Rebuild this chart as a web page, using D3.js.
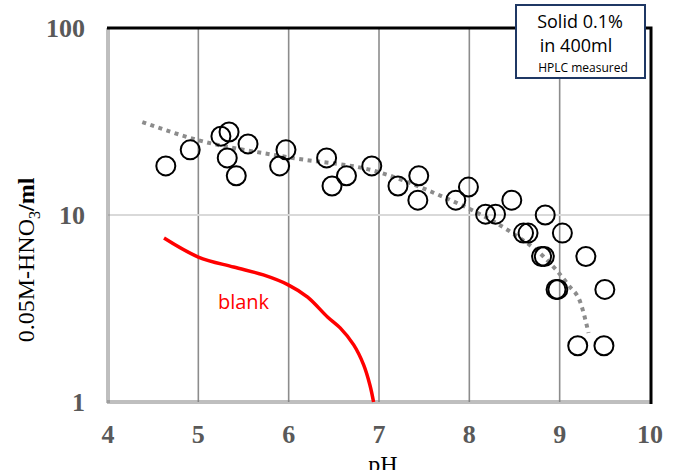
<!DOCTYPE html>
<html>
<head>
<meta charset="utf-8">
<script src="https://cdn.jsdelivr.net/npm/d3@7"></script>
<style>
  html, body { margin: 0; padding: 0; background: #fff; }
  svg { display: block; }
</style>
</head>
<body>
<div id="container"></div>
<script>
const width = 676, height = 470;

// measured samples (pH, 0.05M-HNO3 ml)
const samplePH = [4.64, 4.91, 5.25, 5.34, 5.32, 5.42, 5.55, 5.90, 5.97, 6.42, 6.48, 6.64,
  6.92, 7.21, 7.43, 7.44, 7.85, 7.99, 8.18, 8.29, 8.47, 8.60, 8.65, 8.84, 9.03,
  8.80, 8.83, 9.29, 8.96, 8.98, 9.50, 9.20, 9.49];
const sampleML = [18.3, 22.3, 26.4, 27.8, 20.2, 16.2, 24.0, 18.3, 22.3, 20.2, 14.3, 16.2,
  18.3, 14.3, 12.0, 16.2, 12.0, 14.1, 10.1, 10.1, 12.0, 8.0, 8.0, 10.0, 8.0,
  6.0, 6.0, 6.0, 4.0, 4.0, 4.0, 2.0, 2.0];

// trend line
const trendPH = [4.38, 4.99, 5.98, 6.99, 7.71, 8.05, 8.46, 8.82, 9.10, 9.23, 9.32];
const trendML = [31.4, 25.2, 20.4, 17.0, 12.5, 10.5, 8.1, 6.0, 4.2, 3.4, 2.34];

// blank titration curve
const blankPH = [4.62, 5.00, 5.39, 5.72, 6.00, 6.21, 6.43, 6.57, 6.72, 6.83, 6.90, 6.94];
const blankML = [7.53, 5.96, 5.27, 4.78, 4.22, 3.64, 2.85, 2.49, 2.02, 1.58, 1.23, 1.0];

const xTicks = [4, 5, 6, 7, 8, 9, 10];
const yTicks = [1, 10, 100];

const x = d3.scaleLinear().domain([4, 10]).range([108, 650]);
const y = d3.scaleLog().domain([1, 100]).range([402, 28]);

const svg = d3.select("#container").append("svg")
    .attr("width", width)
    .attr("height", height);

// grid
svg.append("g")
    .selectAll("line")
    .data(xTicks.slice(1, -1))
    .join("line")
    .attr("x1", d => x(d)).attr("x2", d => x(d))
    .attr("y1", y(100)).attr("y2", y(1))
    .attr("stroke", "#8c8c8c")
    .attr("stroke-width", 1.6);

svg.append("line")
    .attr("x1", x(4)).attr("x2", x(10))
    .attr("y1", y(10)).attr("y2", y(10))
    .attr("stroke", "#d9d9d9")
    .attr("stroke-width", 2);

// left / bottom double gray border
const frame = svg.append("g").attr("fill", "none");
[-1, 1].forEach(o => {
  frame.append("line")
      .attr("x1", x(4) + o).attr("x2", x(4) + o)
      .attr("y1", y(100)).attr("y2", y(1) + 1)
      .attr("stroke", "#7f7f7f").attr("stroke-width", 1);
  frame.append("line")
      .attr("x1", x(4) - 1).attr("x2", x(10))
      .attr("y1", y(1) + o).attr("y2", y(1) + o)
      .attr("stroke", "#7f7f7f").attr("stroke-width", 1);
});
frame.append("path")
    .attr("d", `M${x(4) - 1},${y(100)} H${x(10) + 1} V${y(1) + 2}`)
    .attr("stroke", "#000")
    .attr("stroke-width", 3);

// trend line
const trendLine = d3.line()
    .x(d => x(d[0])).y(d => y(d[1]))
    .curve(d3.curveMonotoneX);
svg.append("path")
    .datum(d3.zip(trendPH, trendML))
    .attr("d", trendLine)
    .attr("fill", "none")
    .attr("stroke", "#8c8c8c")
    .attr("stroke-width", 4)
    .attr("stroke-dasharray", "4,4.5");

// blank curve
const blankLine = d3.line()
    .x(d => x(d[0])).y(d => y(d[1]))
    .curve(d3.curveCatmullRom);
svg.append("path")
    .datum(d3.zip(blankPH, blankML))
    .attr("d", blankLine)
    .attr("fill", "none")
    .attr("stroke", "#ff0000")
    .attr("stroke-width", 3.5);

svg.append("text")
    .attr("x", x(5.5)).attr("y", 309)
    .attr("text-anchor", "middle")
    .style("font", "20px 'Open Sans', sans-serif")
    .attr("fill", "#ff0000")
    .text("blank");

// samples
svg.append("g")
    .selectAll("circle")
    .data(d3.zip(samplePH, sampleML))
    .join("circle")
    .attr("cx", d => x(d[0]))
    .attr("cy", d => y(d[1]))
    .attr("r", 9.5)
    .attr("fill", "none")
    .attr("stroke", "#000")
    .attr("stroke-width", 2);

// tick labels
svg.append("g")
    .selectAll("text")
    .data(xTicks)
    .join("text")
    .attr("x", d => x(d))
    .attr("y", 443)
    .attr("text-anchor", "middle")
    .style("font", "bold 26px 'Liberation Serif', serif")
    .attr("fill", "#595959")
    .text(d => d);

svg.append("g")
    .selectAll("text")
    .data(yTicks)
    .join("text")
    .attr("x", 85)
    .attr("y", d => y(d) + 9)
    .attr("text-anchor", "end")
    .style("font", "bold 26px 'Liberation Serif', serif")
    .attr("fill", "#595959")
    .text(d => d);

// axis titles
svg.append("text")
    .attr("x", x(7) + 4).attr("y", 472)
    .attr("text-anchor", "middle")
    .style("font", "24px 'Liberation Serif', serif")
    .attr("fill", "#000")
    .text("pH");

const yt = svg.append("text")
    .attr("transform", "translate(34,260) rotate(-90)")
    .attr("text-anchor", "middle")
    .style("font", "24px 'Liberation Serif', serif")
    .attr("fill", "#000");
yt.append("tspan").text("0.05M-HNO");
yt.append("tspan").attr("dy", 6).style("font-size", "16px").text("3");
yt.append("tspan").attr("dy", -6).style("font-weight", "bold").text("/ml");

// note box
const box = svg.append("g");
box.append("rect")
    .attr("x", 516).attr("y", 5)
    .attr("width", 129).attr("height", 73)
    .attr("fill", "#fff")
    .attr("stroke", "#1f3864")
    .attr("stroke-width", 2);
box.append("text")
    .attr("x", 580).attr("y", 28)
    .attr("text-anchor", "middle")
    .style("font", "18px 'Open Sans', sans-serif")
    .text("Solid 0.1%");
box.append("text")
    .attr("x", 576).attr("y", 52)
    .attr("text-anchor", "middle")
    .style("font", "18px 'Open Sans', sans-serif")
    .text("in 400ml");
box.append("text")
    .attr("x", 583).attr("y", 72)
    .attr("text-anchor", "middle")
    .style("font", "12px 'Open Sans', sans-serif")
    .text("HPLC measured");
</script>
</body>
</html>
